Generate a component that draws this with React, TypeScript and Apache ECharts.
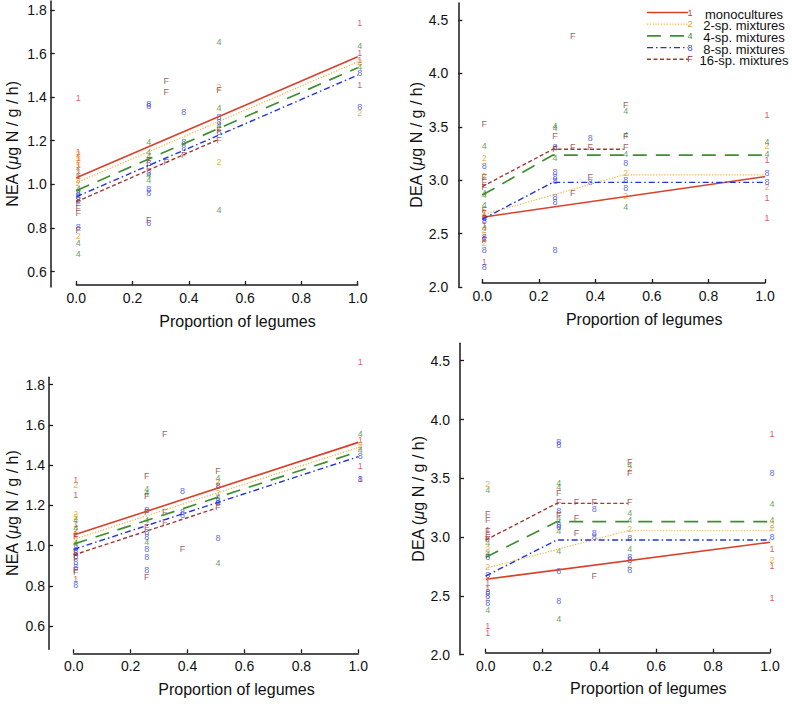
import React, { useEffect, useRef } from "react";
import * as echarts from "echarts";

const FONT = "'Liberation Sans', Arial, Helvetica, sans-serif";

// ---------- categories ----------
const groupChars = ["1", "2", "4", "8", "F"];
const groupNames = ["monocultures", "2-sp. mixtures", "4-sp. mixtures", "8-sp. mixtures", "16-sp. mixtures"];
const neaTicks = [0.6, 0.8, 1.0, 1.2, 1.4, 1.6, 1.8];
const deaTicks = [2.0, 2.5, 3.0, 3.5, 4.0, 4.5];

// ---------- Panel 1: NEA (top) ----------
const nea1Mono = [[0, 1.394], [0, 1.15], [0, 1.12], [0, 1.09], [0, 1.06], [0, 1.04], [1, 1.739], [1, 1.601], [1, 1.57], [1, 1.456]];
const nea1Two = [[0, 1.139], [0, 1.11], [0, 1.08], [0, 1.05], [0, 1.02], [0, 1.005], [0, 0.765], [0.5, 1.447], [0.5, 1.104], [0.5, 1.26], [1, 1.563], [1, 1.326]];
const nea1Four = [[0, 0.98], [0, 0.966], [0, 0.73], [0, 0.679], [0.25, 1.196], [0.25, 1.15], [0.25, 1.13], [0.25, 1.043], [0.25, 1.02], [0.5, 1.651], [0.5, 1.349], [0.5, 1.27], [0.5, 0.882], [1, 1.635], [1, 1.54]];
const nea1Eight = [[0, 0.959], [0, 0.943], [0, 0.928], [0, 0.806], [0.25, 1.37], [0.25, 1.36], [0.25, 1.096], [0.25, 1.05], [0.25, 0.977], [0.25, 0.959], [0.25, 0.824], [0.375, 1.333], [0.375, 1.195], [0.375, 1.165], [0.5, 1.31], [0.5, 1.287], [0.5, 1.24], [1, 1.512], [1, 1.356]];
const nea1Sixteen = [[0, 0.913], [0, 0.89], [0, 0.867], [0, 0.79], [0.25, 1.073], [0.25, 1.11], [0.25, 0.836], [0.3125, 1.473], [0.3125, 1.425], [0.3125, 1.104], [0.375, 1.134], [0.5, 1.432], [0.5, 1.203], [0.5, 1.25]];
const nea1FitMono = [[0, 1.03], [1, 1.585]];
const nea1FitTwo = [[0, 1.007], [1, 1.562]];
const nea1FitFour = [[0, 0.971], [1, 1.535]];
const nea1FitEight = [[0, 0.943], [1, 1.501]];
const nea1FitSixteen = [[0, 0.92], [0.5, 1.203]];

// ---------- Panel 2: DEA (top) ----------
const dea1Mono = [[0, 2.237], [0, 2.66], [0, 2.69], [0, 2.58], [0, 2.45], [1, 3.61], [1, 3.19], [1, 2.83], [1, 2.643]];
const dea1Two = [[0, 3.205], [0, 3.04], [0, 2.53], [0, 2.49], [0, 2.41], [0, 2.7], [0.5, 3.064], [0.5, 2.852], [1, 3.323], [1, 2.94]];
const dea1Four = [[0, 3.323], [0, 2.88], [0, 2.86], [0, 2.768], [0, 2.55], [0.25, 3.508], [0.25, 3.486], [0.25, 3.3], [0.25, 3.205], [0.5, 3.651], [0.5, 3.42], [0.5, 3.242], [0.5, 2.746], [1, 3.361], [1, 3.245]];
const dea1Eight = [[0, 3.136], [0, 2.65], [0, 2.62], [0, 2.346], [0, 2.19], [0, 2.47], [0.25, 3.314], [0.25, 3.08], [0.25, 3.033], [0.25, 2.99], [0.25, 2.846], [0.25, 2.8], [0.25, 2.346], [0.375, 3.398], [0.375, 2.986], [0.5, 3.158], [0.5, 3.002], [0.5, 2.924], [1, 3.064], [1, 2.986]];
const dea1Sixteen = [[0, 3.526], [0, 3.03], [0, 2.94], [0, 2.98], [0, 2.72], [0, 2.44], [0.25, 3.414], [0.25, 3.29], [0.3125, 4.35], [0.3125, 3.314], [0.3125, 2.883], [0.375, 3.314], [0.375, 3.033], [0.5, 3.704], [0.5, 3.41], [0.5, 3.314]];
const dea1FitMono = [[0, 2.653], [1, 3.033]];
const dea1FitTwo = [[0, 2.674], [0.5, 3.05], [1, 3.05]];
const dea1FitFour = [[0, 2.861], [0.25, 3.235], [1, 3.235]];
const dea1FitEight = [[0, 2.634], [0.25, 2.98], [1, 2.98]];
const dea1FitSixteen = [[0, 2.94], [0.25, 3.29], [0.5, 3.29]];

// ---------- Panel 3: NEA (bottom) ----------
const nea2Mono = [[0, 1.326], [0, 1.251], [0, 1.11], [0, 1.06], [0, 0.833], [1, 1.91], [1, 1.524], [1, 1.395], [1, 1.33]];
const nea2Two = [[0, 1.301], [0, 1.16], [0, 1.144], [0, 1.078], [0, 1.03], [0.5, 1.318], [0.5, 1.301], [0.5, 1.26], [1, 1.5], [1, 1.49]];
const nea2Four = [[0, 1.13], [0, 1.012], [0, 1.09], [0.25, 1.281], [0.25, 1.26], [0.25, 1.127], [0.25, 1.02], [0.5, 1.334], [0.5, 1.243], [0.5, 0.916], [1, 1.557], [1, 1.475]];
const nea2Eight = [[0, 0.987], [0, 0.962], [0, 0.92], [0, 0.896], [0, 0.805], [0, 0.95], [0.25, 1.177], [0.25, 1.07], [0.25, 1.045], [0.25, 0.982], [0.25, 0.942], [0.25, 0.879], [0.375, 1.271], [0.375, 1.169], [0.375, 1.152], [0.5, 1.296], [0.5, 1.222], [0.5, 1.21], [0.5, 1.036], [1, 1.447], [1, 1.329]];
const nea2Sixteen = [[0, 1.05], [0, 0.97], [0, 0.871], [0, 0.94], [0, 0.88], [0.25, 1.347], [0.25, 1.246], [0.25, 1.169], [0.25, 1.094], [0.25, 0.843], [0.3125, 1.554], [0.3125, 1.169], [0.3125, 1.116], [0.375, 0.983], [0.5, 1.372], [0.5, 1.194]];
const nea2FitMono = [[0, 1.053], [1, 1.513]];
const nea2FitTwo = [[0, 1.032], [1, 1.488]];
const nea2FitFour = [[0, 1.008], [1, 1.467]];
const nea2FitEight = [[0, 0.982], [1, 1.442]];
const nea2FitSixteen = [[0, 0.954], [0.5, 1.186]];

// ---------- Panel 4: DEA (bottom) ----------
const dea2Mono = [[0, 3.06], [0, 2.61], [0, 2.56], [0, 2.244], [0, 2.181], [1, 3.874], [1, 2.896], [1, 2.757], [1, 2.479]];
const dea2Two = [[0, 3.449], [0, 2.9], [0, 2.87], [0, 2.748], [0, 2.479], [0.5, 3.576], [0.5, 3.066], [0.5, 2.762], [1, 3.103], [1, 3.074], [1, 2.805]];
const dea2Four = [[0, 3.4], [0, 2.95], [0, 2.85], [0, 2.38], [0.25, 3.457], [0.25, 3.429], [0.25, 3.16], [0.25, 3.054], [0.25, 2.884], [0.25, 2.3], [0.5, 3.613], [0.5, 3.207], [0.5, 3.145], [0.5, 2.896], [1, 3.281], [1, 3.145]];
const dea2Eight = [[0, 2.677], [0, 2.83], [0, 2.536], [0, 2.5], [0, 2.44], [0.25, 3.811], [0.25, 3.783], [0.25, 3.224], [0.25, 3.1], [0.25, 3.088], [0.25, 2.711], [0.25, 2.459], [0.375, 3.236], [0.375, 3.032], [0.375, 3.003], [0.5, 2.989], [0.5, 2.833], [0.5, 2.805], [0.5, 2.72], [1, 3.542], [1, 2.998]];
const dea2Sixteen = [[0, 3.196], [0, 3.145], [0, 3.054], [0, 3.0], [0, 2.98], [0.25, 3.372], [0.25, 3.301], [0.25, 3.19], [0.3125, 3.301], [0.3125, 3.159], [0.3125, 3.037], [0.375, 3.301], [0.375, 2.669], [0.5, 3.641], [0.5, 3.548], [0.5, 3.301]];
const dea2FitMono = [[0, 2.641], [1, 2.956]];
const dea2FitTwo = [[0, 2.735], [0.5, 3.054], [1, 3.054]];
const dea2FitFour = [[0, 2.828], [0.25, 3.131], [1, 3.131]];
const dea2FitEight = [[0, 2.669], [0.25, 2.975], [1, 2.975]];
const dea2FitSixteen = [[0, 2.975], [0.25, 3.287], [0.5, 3.287]];

const panelPoints = [
  [nea1Mono, nea1Two, nea1Four, nea1Eight, nea1Sixteen],
  [dea1Mono, dea1Two, dea1Four, dea1Eight, dea1Sixteen],
  [nea2Mono, nea2Two, nea2Four, nea2Eight, nea2Sixteen],
  [dea2Mono, dea2Two, dea2Four, dea2Eight, dea2Sixteen],
];
const panelFits = [
  [nea1FitMono, nea1FitTwo, nea1FitFour, nea1FitEight, nea1FitSixteen],
  [dea1FitMono, dea1FitTwo, dea1FitFour, dea1FitEight, dea1FitSixteen],
  [nea2FitMono, nea2FitTwo, nea2FitFour, nea2FitEight, nea2FitSixteen],
  [dea2FitMono, dea2FitTwo, dea2FitFour, dea2FitEight, dea2FitSixteen],
];
const panelYNames = ["NEA", "DEA", "NEA", "DEA"];
const panelYTicks = [neaTicks, deaTicks, neaTicks, deaTicks];

// ---------- styles / layout ----------
const lineColors = ["#d9402a", "#f2b13c", "#3f8f2f", "#2233d8", "#a33838"];
const pointColors = ["#cc3344", "#e0a030", "#3f8a35", "#2f40d8", "#8a3434"];
const lineWidths = [1.6, 1.2, 1.7, 1.4, 1.4];
const lineDashes: any[] = ["solid", [1.2, 1.6], [14, 9], [6, 3, 1.5, 3], [4, 2.5]];

const layout = [
  { left: 76.3, top: 1, width: 281.4, height: 286, yMin: 0.529, yMax: 1.841, yOffset: 25.6, xOffset: -2, labelMargin: 4, nameGap: 30 },
  { left: 482.3, top: 3, width: 282.7, height: 284, yMin: 2.0, yMax: 4.659, yOffset: 24, xOffset: -4, labelMargin: 10, nameGap: 30 },
  { left: 73.7, top: 377.3, width: 284.6, height: 272, yMin: 0.486, yMax: 1.836, yOffset: 24.7, xOffset: 4, labelMargin: 4, nameGap: 29 },
  { left: 485.7, top: 343.3, width: 284.3, height: 311.4, yMin: 2.0, yMax: 4.648, yOffset: 25.7, xOffset: -2, labelMargin: 10, nameGap: 31 },
];

function buildOption() {
  const grid: any[] = [];
  const xAxis: any[] = [];
  const yAxis: any[] = [];
  const series: any[] = [];

  layout.forEach((L, p) => {
    grid.push({ left: L.left, top: L.top, width: L.width, height: L.height, containLabel: false });
    xAxis.push({
      type: "value",
      gridIndex: p,
      min: 0,
      max: 1,
      interval: 0.2,
      offset: L.xOffset,
      axisLine: { show: true, onZero: false, lineStyle: { color: "#1a1a1a", width: 1.5 } },
      axisTick: { show: true, inside: true, length: 4, lineStyle: { color: "#1a1a1a", width: 1.3 } },
      axisLabel: { color: "#111", fontSize: 14, fontFamily: FONT, margin: 6, formatter: (v: number) => v.toFixed(1) },
      splitLine: { show: false },
      name: "Proportion of legumes",
      nameLocation: "middle",
      nameGap: 28,
      nameTextStyle: { color: "#111", fontSize: 16, fontFamily: FONT, padding: [0, 0, 0, 41] },
    });
    yAxis.push({
      type: "value",
      gridIndex: p,
      min: L.yMin,
      max: L.yMax,
      offset: L.yOffset,
      axisLine: { show: true, onZero: false, lineStyle: { color: "#1a1a1a", width: 1.5 } },
      axisTick: { show: true, inside: true, length: 4, customValues: panelYTicks[p], lineStyle: { color: "#1a1a1a", width: 1.3 } },
      axisLabel: {
        color: "#111",
        fontSize: 14,
        fontFamily: FONT,
        margin: L.labelMargin,
        customValues: panelYTicks[p],
        formatter: (v: number) => v.toFixed(1),
      },
      splitLine: { show: false },
      name: panelYNames[p] + " ({mu|μ}g N / g / h)",
      nameLocation: "middle",
      nameGap: L.nameGap,
      nameTextStyle: {
        color: "#111",
        fontSize: 16,
        fontFamily: FONT,
        rich: { mu: { fontSize: 16, fontStyle: "italic", fontFamily: FONT, color: "#111" } },
      },
    });

    panelPoints[p].forEach((pts, g) => {
      series.push({
        type: "scatter",
        xAxisIndex: p,
        yAxisIndex: p,
        data: pts,
        symbolSize: 1,
        itemStyle: { color: "rgba(0,0,0,0)" },
        clip: false,
        silent: true,
        z: 2,
        label: {
          show: true,
          position: "inside",
          offset: [2, 0],
          formatter: groupChars[g],
          color: pointColors[g],
          fontSize: 9,
          fontFamily: FONT,
        },
      });
    });
    panelFits[p].forEach((pts, g) => {
      series.push({
        type: "line",
        xAxisIndex: p,
        yAxisIndex: p,
        data: pts,
        symbol: "none",
        clip: false,
        silent: true,
        z: 3,
        lineStyle: { color: lineColors[g], width: lineWidths[g], type: lineDashes[g] },
      });
    });
  });

  // legend drawn as graphic
  const legendChildren: any[] = [];
  groupNames.forEach((name, g) => {
    const y = 12.5 + g * 11.7;
    const dash = lineDashes[g] === "solid" ? null : lineDashes[g];
    legendChildren.push({
      type: "line",
      shape: { x1: 647, y1: y, x2: 688, y2: y },
      style: { stroke: lineColors[g], lineWidth: lineWidths[g], lineDash: dash },
    });
    legendChildren.push({
      type: "text",
      x: 690,
      y: y,
      style: { text: groupChars[g], fill: pointColors[g], fontSize: 9, fontFamily: FONT, align: "center", verticalAlign: "middle" },
    });
    legendChildren.push({
      type: "text",
      x: 744,
      y: y + 1.5,
      style: { text: name, fill: "#111", fontSize: 13, fontFamily: FONT, align: "center", verticalAlign: "middle" },
    });
  });

  return {
    animation: false,
    backgroundColor: "#ffffff",
    grid,
    xAxis,
    yAxis,
    series,
    graphic: [{ type: "group", children: legendChildren }],
  };
}

export default function App() {
  const ref = useRef<HTMLDivElement>(null);
  useEffect(() => {
    document.body.style.margin = "0";
    const chart = echarts.init(ref.current as HTMLDivElement, undefined, { renderer: "svg" });
    chart.setOption(buildOption() as any);
    return () => chart.dispose();
  }, []);
  return <div ref={ref} style={{ position: "absolute", left: 0, top: 0, width: 792, height: 704 }} />;
}
